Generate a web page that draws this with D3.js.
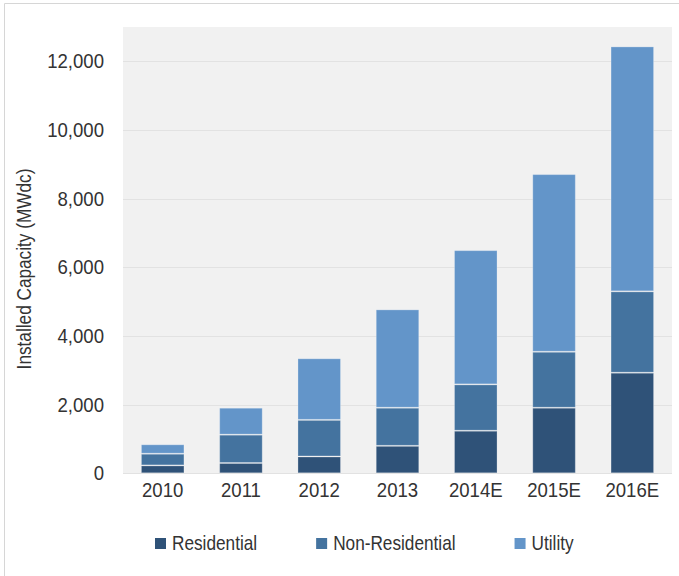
<!DOCTYPE html>
<html>
<head>
<meta charset="utf-8">
<script src="https://cdn.jsdelivr.net/npm/d3@7"></script>
<style>
  html, body { margin: 0; padding: 0; background: #fff; }
  svg { display: block; }
  .num { font-family: "Liberation Sans", Arial, sans-serif; font-size: 20px; fill: #333; }
  .word { font-family: "Liberation Sans", Arial, sans-serif; font-size: 21px; fill: #333; }
</style>
</head>
<body>
<script>
const categories = ["2010", "2011", "2012", "2013", "2014E", "2015E", "2016E"];
const seriesNames = ["Residential", "Non-Residential", "Utility"];
const residential = [230, 300, 490, 800, 1240, 1910, 2930];
const nonResidential = [340, 825, 1065, 1110, 1350, 1630, 2370];
const utility = [275, 785, 1795, 2865, 3910, 5175, 7135];
const yTicks = [0, 2000, 4000, 6000, 8000, 10000, 12000];
const colors = ["#2f5278", "#44739f", "#6395c9"];

const W = 679, H = 576;
const NUM_SX = 0.93, WORD_SX = 0.82;
const svg = d3.select("body").append("svg").attr("width", W).attr("height", H);

// outer frame (left and top edges visible)
svg.append("line").attr("x1", 4.5).attr("x2", 4.5).attr("y1", 3.5).attr("y2", H).attr("stroke", "#d6d6d6");
svg.append("line").attr("x1", 4.5).attr("x2", W).attr("y1", 3.5).attr("y2", 3.5).attr("stroke", "#d6d6d6");

const plot = { left: 123, right: 672, top: 27, bottom: 473.3 };

const x = d3.scaleBand().domain(categories).range([plot.left, plot.right])
  .paddingInner(0.444).paddingOuter(0.229);
const y = d3.scaleLinear().domain([0, 13000]).range([plot.bottom, plot.top]);

svg.append("rect").attr("x", plot.left).attr("y", plot.top)
  .attr("width", plot.right - plot.left).attr("height", plot.bottom - plot.top)
  .attr("fill", "#f1f1f1");

// gridlines
svg.append("g").selectAll("line").data(yTicks).join("line")
  .attr("x1", plot.left).attr("x2", plot.right)
  .attr("y1", d => Math.round(y(d)) + 0.5).attr("y2", d => Math.round(y(d)) + 0.5)
  .attr("stroke", "#e2e2e2").attr("stroke-width", 1);

// y axis labels
const yAxis = d3.axisLeft(y).tickValues(yTicks).tickFormat(d3.format(",")).tickSize(0).tickPadding(19);
const gy = svg.append("g").attr("transform", `translate(${plot.left},0)`).call(yAxis);
gy.select(".domain").remove();
gy.selectAll("text").attr("class", "num").attr("font-family", null).attr("font-size", null)
  .attr("x", -19 / NUM_SX)
  .attr("transform", `scale(${NUM_SX},1)`);

// x axis labels
const xAxis = d3.axisBottom(x).tickSize(0).tickPadding(10);
const gx = svg.append("g").attr("transform", `translate(0,${plot.bottom})`).call(xAxis);
gx.select(".domain").remove();
gx.selectAll("text").attr("class", "num").attr("font-family", null).attr("font-size", null)
  .attr("transform", `scale(${NUM_SX},1)`);

// stacked data
const table = categories.map((c, i) => ({
  cat: c,
  "Residential": residential[i],
  "Non-Residential": nonResidential[i],
  "Utility": utility[i]
}));
const stack = d3.stack().keys(seriesNames)(table);

svg.append("g").selectAll("g").data(stack).join("g")
  .attr("fill", (d, i) => colors[i])
  .selectAll("rect").data(d => d).join("rect")
  .attr("x", d => x(d.data.cat) + 0.5)
  .attr("width", x.bandwidth() - 1)
  .attr("y", d => y(d[1]) + 0.5)
  .attr("height", d => Math.max(0, y(d[0]) - y(d[1]) - 1))
  .attr("stroke", "rgba(255,255,255,0.25)")
  .attr("stroke-width", 1);

// y axis title
svg.append("text").attr("class", "word")
  .attr("transform", `translate(31,269) rotate(-90) scale(${WORD_SX},1)`)
  .attr("text-anchor", "middle")
  .text("Installed Capacity (MWdc)");

// legend
const legend = svg.append("g");
let lx = 155;
seriesNames.forEach((name, i) => {
  legend.append("rect").attr("x", lx).attr("y", 538).attr("width", 11).attr("height", 11).attr("fill", colors[i]);
  const t = legend.append("text").attr("class", "word")
    .attr("transform", `translate(${lx + 17},550) scale(${WORD_SX},1)`).text(name);
  const w = t.node().getComputedTextLength() * WORD_SX;
  lx = lx + 17 + w + 59;
});
</script>
</body>
</html>
